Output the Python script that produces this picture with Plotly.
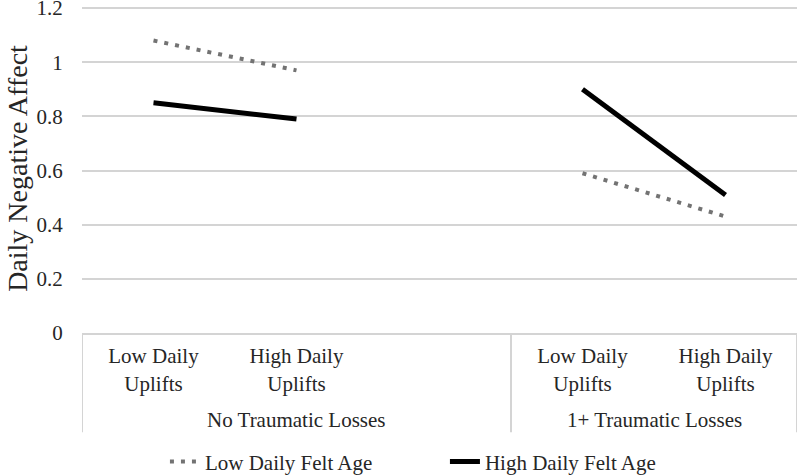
import plotly.graph_objects as go

# ---- data ----
categories = ["Low Daily<br>Uplifts", "High Daily<br>Uplifts", "", "Low Daily<br>Uplifts", "High Daily<br>Uplifts"]
groups = ["No Traumatic Losses", "1+ Traumatic Losses"]
group_sizes = [3, 2]
low_felt_age = [1.08, 0.97, None, 0.59, 0.43]
high_felt_age = [0.85, 0.79, None, 0.90, 0.51]
y_ticks = [0, 0.2, 0.4, 0.6, 0.8, 1.0, 1.2]
y_ticktext = ["0", "0.2", "0.4", "0.6", "0.8", "1", "1.2"]

x_pos = list(range(len(categories)))
FONT = "Liberation Serif"
TXT = "#262626"
GRID = "#d4d4d4"

fig = go.Figure()
fig.add_trace(go.Scatter(
    x=x_pos, y=low_felt_age, mode="lines", name="Low Daily Felt Age",
    line=dict(color="#737373", width=4, dash="4px,7px"), connectgaps=False))
fig.add_trace(go.Scatter(
    x=x_pos, y=high_felt_age, mode="lines", name="High Daily Felt Age",
    line=dict(color="#000000", width=5), connectgaps=False))

# group dividers and labels (plot height 329px -> 100px below axis)
shapes = []
annotations = []
start = -0.5
bounds = [start]
for g, n in zip(groups, group_sizes):
    end = start + n
    annotations.append(dict(x=(start + end) / 2, y=0, xref="x", yref="paper",
                            text=g, showarrow=False, yanchor="middle",
                            yshift=-87, font=dict(family=FONT, size=21, color=TXT)))
    bounds.append(end)
    start = end
for b in bounds:
    shapes.append(dict(type="line", xref="x", yref="paper", x0=b, x1=b,
                       y0=0, y1=-0.302, line=dict(color=GRID, width=2)))

fig.update_layout(
    width=800, height=475,
    margin=dict(l=82, r=3, t=4, b=142, autoexpand=False),
    paper_bgcolor="white", plot_bgcolor="white",
    font=dict(family=FONT, size=21, color=TXT),
    showlegend=True,
    legend=dict(orientation="h", x=0.116, xanchor="left", y=-0.392, yanchor="middle",
                font=dict(family=FONT, size=21, color=TXT),
                entrywidth=235, entrywidthmode="pixels", bgcolor="rgba(0,0,0,0)"),
    xaxis=dict(range=[-0.5, 4.5], tickvals=x_pos, ticktext=categories,
               showgrid=False, zeroline=False, showline=True, linecolor=GRID, linewidth=2,
               ticks="outside", ticklen=3, tickcolor="rgba(0,0,0,0)",
               tickfont=dict(family=FONT, size=21, color=TXT), fixedrange=True),
    yaxis=dict(range=[0, 1.215], tickvals=y_ticks, ticktext=y_ticktext,
               showgrid=True, gridcolor=GRID, gridwidth=2, zeroline=False, showline=False,
               ticks="outside", ticklen=14, tickcolor="rgba(0,0,0,0)",
               ticklabeloverflow="allow",
               tickfont=dict(family=FONT, size=21, color=TXT),
               title=dict(text="Daily Negative Affect", standoff=0,
                          font=dict(family=FONT, size=28, color=TXT))),
    shapes=shapes, annotations=annotations,
)

fig.write_html("out.html", config={"displayModeBar": False},
               post_script="document.body.style.margin='0';")
